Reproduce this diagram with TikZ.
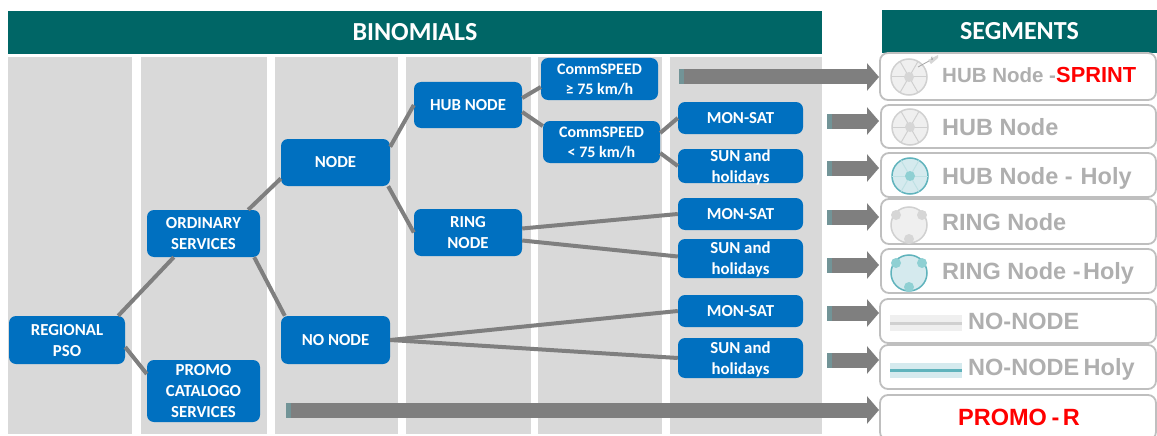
\documentclass[tikz,border=0pt]{standalone}
\usepackage{fontspec}
\setmainfont{Carlito}
\newfontfamily\arialf{Liberation Sans}
\usetikzlibrary{calc,arrows.meta}
\definecolor{teal}{HTML}{006666}
\definecolor{bluebox}{HTML}{0070C0}
\definecolor{colgray}{HTML}{D9D9D9}
\definecolor{conn}{HTML}{7F7F7F}
\definecolor{segline}{HTML}{BFBFBF}
\definecolor{segtext}{HTML}{AFAFAF}
\definecolor{iconline}{HTML}{D0D0D0}
\definecolor{iconfill}{HTML}{EFEFEF}
\definecolor{iconhub}{HTML}{D6D6D6}
\definecolor{holyline}{HTML}{5FB3BC}
\definecolor{holyfill}{HTML}{D5EAEE}
\definecolor{holyhub}{HTML}{8FD0D3}
\newcommand\boxat[6]{\node[#1,minimum width=#4-#2,minimum height=#5-#3] (#6) at ({(#2+#4)/2},{(#3+#5)/2})}
\newcommand\twol[2]{\smash{\raisebox{-6pt}{\begin{tabular}{@{}c@{}}#1\\#2\end{tabular}}}}
\newcommand\onel[1]{\raisebox{-1pt}{#1}}
\tikzset{
  x=1pt,y=-1pt,
  colbar/.style={fill=colgray,draw=none},
  header/.style={fill=teal,text=white,font=\fontsize{26}{30}\bfseries\selectfont,inner sep=0pt},
  bluenode/.style={fill=bluebox,text=white,rounded corners=7pt,inner sep=0pt,font=\fontsize{16.8}{21}\bfseries\selectfont},
  commnode/.style={bluenode,font=\fontsize{16}{20}\bfseries\selectfont},
  link/.style={draw=conn,line width=4pt},
  bigarrow/.style={draw=conn,line width=15pt,-{Triangle[length=12pt,width=27pt]}},
  arrowtail/.style={fill=conn!60!holyline,draw=none},
  segbox/.style={draw=segline,line width=1.8pt,rounded corners=8pt,fill=white,inner sep=0pt},
  segt/.style={anchor=base west,inner sep=0pt,text=segtext,font=\arialf\fontsize{23.5}{26}\bfseries\selectfont},
  segred/.style={anchor=base west,inner sep=0pt,text=red,font=\arialf\fontsize{21.8}{24}\bfseries\selectfont},
  icn/.style={draw=iconline,fill=iconfill,line width=1.5pt},
  icnh/.style={draw=holyline,fill=holyfill,line width=1.5pt},
}
\newcommand\hubicon[5]{%
  \draw[#3] (#1,#2) circle (18);
  \foreach \a in {0,60,120,180,240,300}{\draw[#4,line width=1pt] (#1,#2) -- ++(\a:18);}
  \fill[#5] (#1,#2) circle (5);}
\newcommand\ringicon[5]{%
  \draw[#3] (#1,#2) circle (18);
  \fill[#5] (#1-13,#2-10) circle (5) (#1+13,#2-10) circle (5) (#1,#2+14) circle (5);}
\begin{document}
\begin{tikzpicture}
\useasboundingbox (0,0) rectangle (1157,436);
\fill[white] (0,0) rectangle (1157,436);
% columns
\fill[colbar] (8,57) rectangle (132,434);
\fill[colbar] (141,57) rectangle (267,434);
\fill[colbar] (275,57) rectangle (398,434);
\fill[colbar] (406,57) rectangle (531,434);
\fill[colbar] (538,57) rectangle (662,434);
\fill[colbar] (670,57) rectangle (822,434);
% headers
\boxat{header}{8}{11}{822}{54}{binom} {BINOMIALS};
\boxat{header}{882}{10}{1157}{53}{segm} {SEGMENTS};
% blue nodes
\boxat{bluenode}{9}{316}{125}{364}{reg} {\twol{REGIONAL}{PSO}};
\boxat{bluenode}{147}{210}{260}{257}{ord} {\twol{ORDINARY}{SERVICES}};
\boxat{bluenode}{147}{360}{260}{422}{promo} {\smash{\raisebox{-6pt}{\begin{tabular}{@{}c@{}}PROMO\\CATALOGO\\SERVICES\end{tabular}}}};
\boxat{bluenode}{281}{139}{390}{186}{nd} {\onel{NODE}};
\boxat{bluenode}{281}{316}{390}{364}{nonode} {\onel{NO NODE}};
\boxat{bluenode}{414}{82}{522}{128}{hub} {\onel{HUB NODE}};
\boxat{bluenode}{414}{209}{522}{256}{ring} {\twol{RING}{NODE}};
\boxat{commnode}{541}{58}{658}{100}{cfast} {\twol{CommSPEED}{≥ 75 km/h}};
\boxat{commnode}{543}{121}{660}{163}{cslow} {\twol{CommSPEED}{< 75 km/h}};
\boxat{bluenode}{678}{102}{803}{134}{mona} {\onel{MON-SAT}};
\boxat{bluenode}{678}{149}{803}{183}{suna} {\twol{SUN and}{holidays}};
\boxat{bluenode}{678}{198}{803}{230}{monb} {\onel{MON-SAT}};
\boxat{bluenode}{678}{239}{803}{278}{sunb} {\twol{SUN and}{holidays}};
\boxat{bluenode}{678}{295}{803}{327}{monc} {\onel{MON-SAT}};
\boxat{bluenode}{678}{338}{803}{378}{sunc} {\twol{SUN and}{holidays}};
% connectors
\draw[link] ($(reg.north east)+(-7,0)$) -- ($(ord.south west)+(27,0)$);
\draw[link] ($(reg.east)+(0,7)$) -- ($(promo.west)+(0,-17)$);
\draw[link] ($(ord.north east)+(-12,0)$) -- ($(nd.west)+(0,16)$);
\draw[link] ($(ord.south east)+(-6,0)$) -- ($(nonode.north west)+(4,0)$);
\draw[link] ($(nd.north east)+(0,8)$) -- (hub.west);
\draw[link] ($(nd.south east)+(-2,0)$) -- (ring.west);
\draw[link] ($(hub.east)+(0,-7)$) -- ($(cfast.west)+(0,8)$);
\draw[link] ($(hub.east)+(0,7)$) -- ($(cslow.west)+(0,-16)$);
\draw[link] ($(cslow.east)+(0,-9)$) -- (mona.west);
\draw[link] ($(cslow.east)+(0,11)$) -- (suna.west);
\draw[link] ($(ring.east)+(0,-4)$) -- (monb.west);
\draw[link] ($(ring.east)+(0,8)$) -- ($(sunb.west)+(0,-2)$);
\draw[link] (nonode.east) -- (monc.west);
\draw[link] (nonode.east) -- (sunc.west);
% segment boxes
\boxat{segbox}{880}{53}{1156}{100}{sa} {};
\boxat{segbox}{881}{105}{1156}{148}{sb} {};
\boxat{segbox}{881}{153}{1156}{197}{sc} {};
\boxat{segbox}{881}{199}{1156}{244}{sd} {};
\boxat{segbox}{881}{249}{1156}{293}{se} {};
\boxat{segbox}{880}{299}{1156}{343}{sf} {};
\boxat{segbox}{880}{345}{1156}{389}{sg} {};
\boxat{segbox}{880}{395}{1156}{440}{sh} {};
% block arrows
\foreach \st/\yy/\tg in {679/77/sa,827/121/sb,827/168/sc,827/217/sd,827/265/se,827/313/sf,827/360/sg,286/410/sh}{
  \coordinate (from\tg) at (\st,\yy);
  \coordinate (to\tg) at (879,\yy);
  \draw[bigarrow] (from\tg) -- (to\tg);
  \fill[arrowtail] (\st,\yy-7.5) rectangle (\st+5,\yy+7.5);
}
% icons
\hubicon{909}{77}{icn}{iconline}{iconhub}
\draw[gray!70,line width=.8pt] (918,67) -- (929,61);
\fill[iconhub] (928,60) -- (938,55) -- (938,58) -- (931,64) -- cycle;
\node[inner sep=0pt,text=gray,font=\fontsize{5}{5}\selectfont] (sprs) at (932,59) {S};
\hubicon{910}{127}{icn}{iconline}{iconhub}
\hubicon{910}{176}{icnh}{white!60!holyline}{holyhub}
\ringicon{909}{225}{icn}{iconline}{iconhub}
\ringicon{909}{273}{icnh}{}{holyhub}
\fill[iconfill] (890,315) rectangle (962,331);
\fill[iconline] (890,321.5) rectangle (962,324.5);
\fill[holyfill] (890,363) rectangle (962,378);
\fill[holyline] (890,369) rectangle (962,372);
% segment labels
\node[segt,font=\arialf\fontsize{20.5}{24}\bfseries\selectfont] (ta) at (942,83) {HUB Node -};
\node[segred] (tb) at (1056,83) {SPRINT};
\node[segt] (tc) at (942,135) {HUB Node};
\node[segt] (td) at (942,184) {HUB Node -\hspace{8pt}Holy};
\node[segt] (te) at (942,230) {RING Node};
\node[segt] (tf) at (942,279) {RING Node -\hspace{-4pt} Holy};
\node[segt] (tg) at (968,329) {NO-NODE};
\node[segt] (th) at (968,375) {NO-NODE\hspace{-2pt} Holy};
\node[segred,font=\arialf\fontsize{23.5}{26}\bfseries\selectfont] (ti) at (958,425) {PROMO\hspace{-2pt} -\hspace{-3pt} R};
\end{tikzpicture}
\end{document}
